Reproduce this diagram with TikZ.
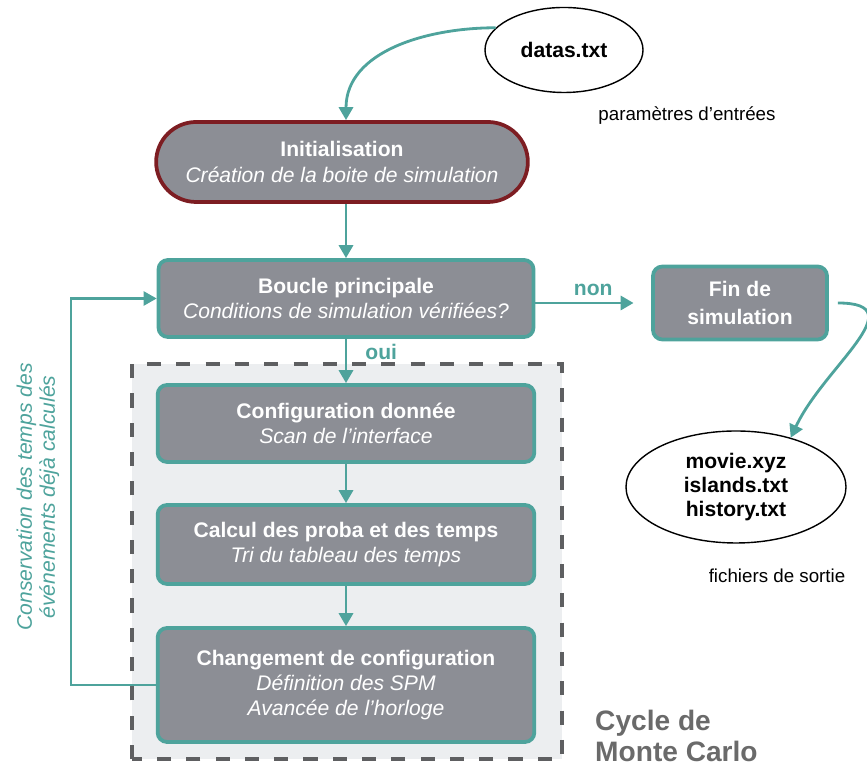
\documentclass[tikz,border=0pt]{standalone}
\usepackage{fontspec}
\setmainfont{Liberation Sans}
\usepackage{tikz}
\usetikzlibrary{
  arrows.meta,%
  positioning,%
  shapes.geometric,%
  calc
}
\definecolor{tealline}{HTML}{4EA39C}
\definecolor{boxgray}{HTML}{8C8E95}
\definecolor{initred}{HTML}{7D1D22}
\definecolor{dashgray}{HTML}{5E5F61}
\definecolor{cyclebg}{HTML}{ECEEF0}
\definecolor{cyclegray}{HTML}{6A6A6A}

\tikzset{>={Triangle[length=11pt,width=12pt]}}
\tikzset{font=\fontsize{18}{21.5}\selectfont}
\tikzset{stage/.style={rectangle, rounded corners=8pt, draw=tealline,
  line width=3.2pt, fill=boxgray, text=white, align=center,
  minimum width=11.3cm, minimum height=2.31cm}}
\tikzset{startbox/.style={stage, draw=initred, rounded corners=1.2cm,
  minimum width=11.15cm, minimum height=2.4cm}}
\tikzset{datafile/.style={ellipse, draw=black, line width=1.2pt, fill=white,
  align=center, font=\fontsize{18}{20.5}\selectfont\bfseries}}
\tikzset{flow/.style={->, draw=tealline, line width=2.4pt}}
\tikzset{flowlabel/.style={text=tealline, font=\fontsize{18}{21}\selectfont\bfseries}}
\tikzset{note/.style={font=\fontsize{16}{19}\selectfont}}

\begin{document}
\begin{tikzpicture}[x=0.03cm, y=0.03cm]
  \useasboundingbox (0,0) rectangle (867,769);
  % cadre du cycle Monte Carlo
  \fill[cyclebg] (132,10) rectangle (562,405);
  \draw[dashgray, line width=4pt, dash pattern=on 12pt off 13pt] (132,10) rectangle (562,405);

  \node[datafile, minimum width=4.74cm, minimum height=2.55cm] (datas) at (564,719) {datas.txt};
  \node[note] (entrees) at (687,653) {paramètres d'entrées};

  \node[startbox] (init) at (342,607)
    {{\bfseries Initialisation}\\{\itshape Création de la boite de simulation}};
  \node[stage, minimum width=11.25cm] (boucle) at (346,470.5)
    {{\bfseries Boucle principale}\\{\itshape Conditions de simulation vérifiées?}};
  \node[stage, minimum width=5.22cm, minimum height=2.19cm, font=\fontsize{18}{24}\selectfont\bfseries] (fin) at (740,466)
    {Fin de\\simulation};

  \node[stage] (config) at (346,345.5)
    {{\bfseries Configuration donnée}\\{\itshape Scan de l'interface}};
  \node[stage, minimum height=2.37cm] (calcul) at (346,224.5)
    {{\bfseries Calcul des proba et des temps}\\{\itshape Tri du tableau des temps}};
  \node[stage, minimum height=3.42cm] (changement) at (346,84)
    {{\bfseries Changement de configuration}\\{\itshape Définition des SPM}\\{\itshape Avancée de l'horloge}};

  \node[datafile, minimum width=6.6cm, minimum height=3.36cm] (sortie) at (736,282)
    {movie.xyz\\islands.txt\\history.txt};
  \node[note] (sortielabel) at (777,193) {fichiers de sortie};

  \node[anchor=west, text=cyclegray, align=left, inner sep=0pt,
    font=\fontsize{24}{27}\selectfont\bfseries] (cycle) at (595,33) {Cycle de\\Monte Carlo};
  \node[rotate=90, text=tealline, align=center,
    font=\fontsize{18}{19.6}\selectfont\itshape] (conservation) at (38,272)
    {Conservation des temps des\\événements déjà calculés};

  % fleches
  \draw[flow] (datas.162) to[out=180, in=90] (init.north -| boucle.north);
  \draw[flow] (init.south -| boucle.north) -- (boucle.north);
  \draw[flow] (boucle) -- node[flowlabel, pos=0.3, right=12pt] (oui) {oui} (config);
  \draw[flow, shorten >=15pt] (boucle.east |- fin.west) -- node[flowlabel, above=2pt] (non) {non} (fin.west);
  \draw[flow] (config) -- (calcul);
  \draw[flow] (calcul) -- (changement);
  \draw[flow, line width=1.8pt] (changement.west) -- ++(-85,0) |- (boucle.west);
  \draw[flow] ($(fin.east)+(9,0)$) to[out=0, in=65, looseness=1.4] (sortie.42);
\end{tikzpicture}
\end{document}
